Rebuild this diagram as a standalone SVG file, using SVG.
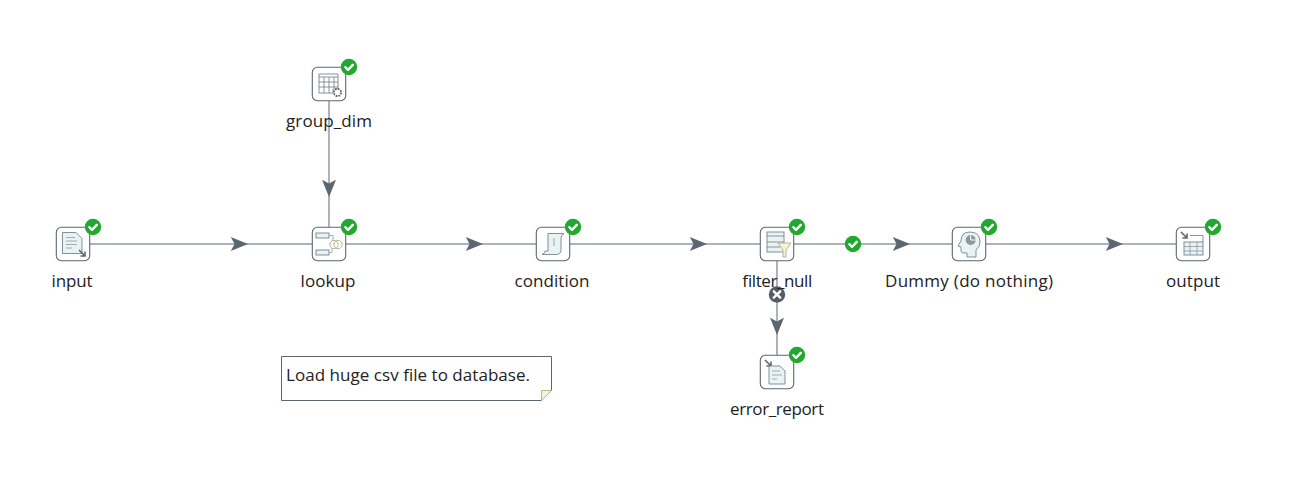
<svg xmlns="http://www.w3.org/2000/svg" width="1291" height="479" viewBox="0 0 1291 479">
<style>
text{font-family:"Open Sans","Noto Sans","Liberation Sans",sans-serif;font-size:17px;fill:#222}
.lbl{text-anchor:middle}
.box{fill:#fff;stroke:#5b6770;stroke-width:1.100}
.hop{fill:none;stroke:#5b6770;stroke-width:1}
.ln{fill:none;stroke:#6f7c84;stroke-width:0.800}
.pale{fill:#e8f3f6;stroke:#76838a;stroke-width:0.900}
.thin{fill:none;stroke:#8d989e;stroke-width:0.800}
.tick{fill:none;stroke:#fff;stroke-width:2.400;stroke-linecap:round;stroke-linejoin:round}
.yel{fill:#f5f2d8;stroke:#b5b48f;stroke-width:1}
</style>
<defs>
<marker id="arr" markerUnits="userSpaceOnUse" markerWidth="18" markerHeight="14" refX="16" refY="6.500" orient="auto" viewBox="0 0 16 13"><path d="M0 0L16 6.500L0 13L3.500 6.500Z" fill="#5b6770"/></marker>
<g id="ok"><circle r="8.200" fill="#22a82e"/><path class="tick" d="M-3.600 0.200L-1 2.800L3.800-2.200"/></g>
<rect id="frame" class="box" x="-16.700" y="-16.700" width="33.400" height="33.400" rx="5"/>
</defs>
<g id="connectors">
<path class="hop" d="M90 244H248" marker-end="url(#arr)"/><path class="hop" d="M248 244H312"/>
<path class="hop" d="M346 244H483" marker-end="url(#arr)"/><path class="hop" d="M483 244H536"/>
<path class="hop" d="M570 244H707" marker-end="url(#arr)"/><path class="hop" d="M707 244H760"/>
<path class="hop" d="M794 244H910" marker-end="url(#arr)"/><path class="hop" d="M910 244H952"/>
<path class="hop" d="M986 244H1123" marker-end="url(#arr)"/><path class="hop" d="M1123 244H1176"/>
<path class="hop" d="M329 101V197" marker-end="url(#arr)"/><path class="hop" d="M329 197V227"/>
<path class="hop" d="M777 261V335" marker-end="url(#arr)"/><path class="hop" d="M777 335V356"/>
<g id="hop-ok"><use href="#ok" x="853" y="244"/></g>
<g id="hop-error"><circle cx="777" cy="294.500" r="8.200" fill="#555e66"/><path d="M773.800 291.300L780.200 297.700M780.200 291.300L773.800 297.700" fill="none" stroke="#fff" stroke-width="2.400" stroke-linecap="round"/></g>
</g>
<g id="group_dim" transform="translate(329 84)"><use href="#frame"/>
<path class="pale" d="M-10-10H9V5H4V9H-10Z" style="fill:#fff"/><path class="ln" d="M-10-7H9M-10-2H9M-10 3H9M-5-7V9M0-7V9M5-7V4"/>
<circle cx="8.500" cy="8.500" r="3.600" fill="#fff" stroke="#5b6770" stroke-width="1.800" stroke-dasharray="1.800 1"/>
<use href="#ok" x="20" y="-17"/><text class="lbl" x="0" y="42.500" textLength="86">group_dim</text></g>
<g id="input" transform="translate(73 244)"><use href="#frame"/>
<path class="pale" d="M-10.500-11.500H3L9-5.500V9.500H-10.500Z"/><path class="thin" d="M-7-6.500H2M-7-3H4M-7 0.500H4M-7 4H-1"/><path d="M6 6L12 12M12 7.500V12H7.500" fill="none" stroke="#5b6770" stroke-width="1.600"/>
<use href="#ok" x="20" y="-17"/><text class="lbl" x="-1" y="42.500" textLength="41">input</text></g>
<g id="lookup" transform="translate(329 244)"><use href="#frame"/>
<rect class="pale" x="-13" y="-11" width="13" height="5"/><rect class="pale" x="-13" y="6" width="13" height="5"/><path class="thin" d="M0-8.500H4V-3M0 8.500H3V4"/>
<circle class="yel" cx="5" cy="0.500" r="4.200" style="fill:none"/><circle class="yel" cx="9" cy="0.500" r="4.200" style="fill:none"/>
<use href="#ok" x="20" y="-17"/><text class="lbl" x="-1" y="42.500" textLength="55">lookup</text></g>
<g id="condition" transform="translate(553 244)"><use href="#frame"/>
<path class="pale" d="M-5-10.500H11Q8-9 8-6V6Q8 10.500 3 10.500H-11Q-8 9.500-8 7H-5Z"/><path class="thin" d="M1-6V2"/>
<use href="#ok" x="20" y="-17"/><text class="lbl" x="-1" y="42.500" textLength="75">condition</text></g>
<g id="filter_null" transform="translate(777 244)"><use href="#frame"/>
<rect class="pale" x="-10" y="-12" width="17" height="20"/><path class="ln" d="M-10-8H7M-10-2H7M-10 3H3"/>
<path class="yel" d="M1-1H14L9 6V13H6V6Z"/>
<use href="#ok" x="20" y="-17"/><text class="lbl" x="0" y="42.500" textLength="70">filter_null</text></g>
<g id="dummy" transform="translate(969 244)"><use href="#frame"/>
<path class="pale" d="M-2 13V9H-6Q-8 9-8 6V3L-11 2L-8-3Q-8-12 1-12Q11-12 11-2Q11 3 7 6V13Z"/>
<circle cx="1.700" cy="-4" r="5" fill="#8d979d"/><path d="M1.700-9V-4H6.700" fill="none" stroke="#fff" stroke-width="1"/>
<use href="#ok" x="20" y="-17"/><text class="lbl" x="0" y="42.500" textLength="168">Dummy (do nothing)</text></g>
<g id="output" transform="translate(1193 244)"><use href="#frame"/>
<path d="M-12-12L-6-6M-6-10.500V-6H-10.500" fill="none" stroke="#5b6770" stroke-width="1.600"/>
<path class="ln" d="M-3-8.500H10V-2"/><rect x="-9" y="-2" width="19" height="13" fill="#e8f3f6" stroke="#76838a" stroke-width="0.900"/><path class="thin" d="M-9 2.500H10M-9 7H10M-3-2V11M4-2V11"/>
<use href="#ok" x="20" y="-17"/><text class="lbl" x="0" y="42.500" textLength="54">output</text></g>
<g id="error_report" transform="translate(777 372)"><use href="#frame"/>
<path d="M-12-12L-6-6M-6-10.500V-6H-10.500" fill="none" stroke="#5b6770" stroke-width="1.600"/>
<path class="pale" d="M-8-6H3L8-1V12H-8Z"/><path class="thin" d="M-5-1H3M-5 3H5M-5 7H0"/>
<use href="#ok" x="20" y="-17"/><text class="lbl" x="0" y="42.500" textLength="94">error_report</text></g>
<g id="note"><path d="M281.500 356.500H551.500V390.500L541.500 400.500H281.500Z" fill="#fff" stroke="#5b6770" stroke-width="1"/>
<path class="yel" d="M551.500 390.500H541.500V400.500Z"/><text x="286" y="381" textLength="244">Load huge csv file to database.</text></g>
</svg>
